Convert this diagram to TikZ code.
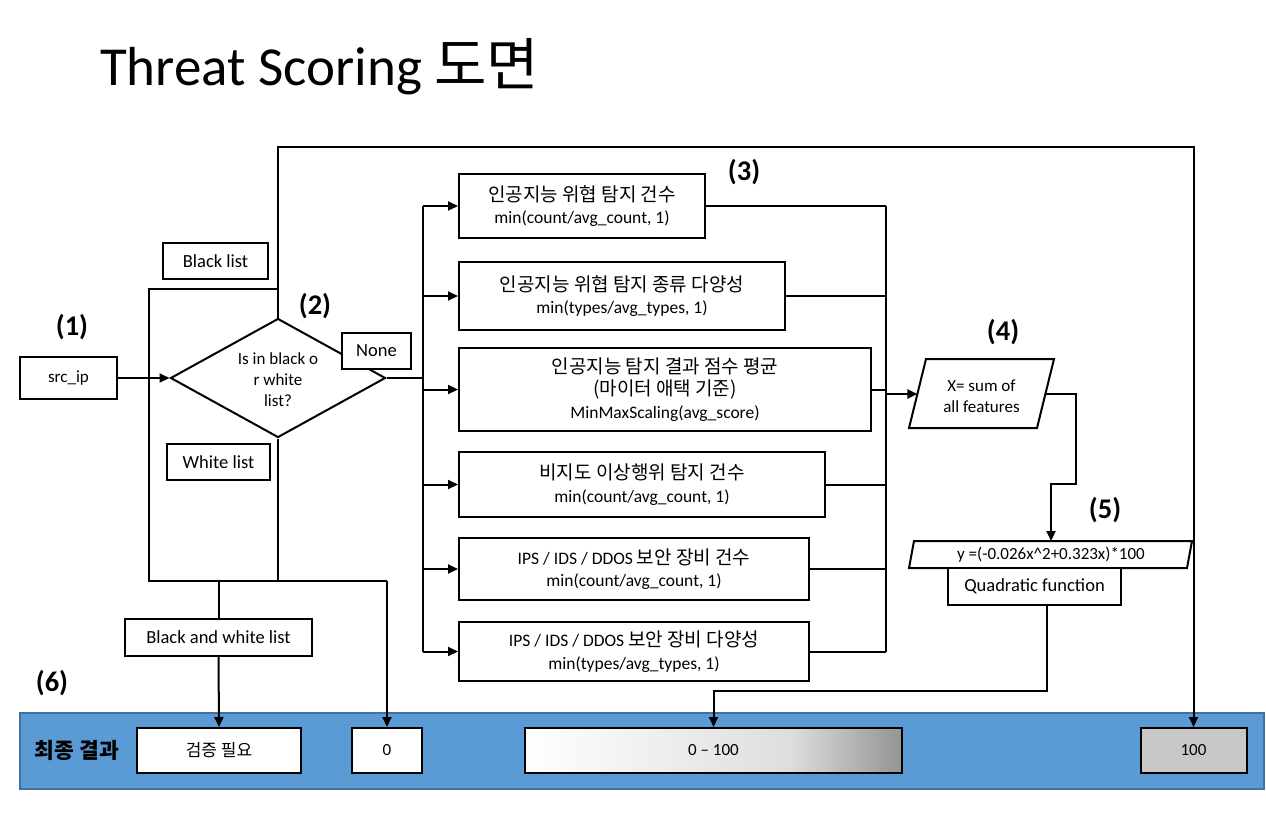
\documentclass[tikz,border=0pt]{standalone}
\usepackage{fontspec}
\setmainfont{Carlito}
\newfontfamily\kr{Noto Sans CJK KR}
\usetikzlibrary{arrows.meta,shapes.geometric}
\definecolor{bandblue}{HTML}{5B9BD5}
\definecolor{bandedge}{HTML}{41719C}
\definecolor{hundredgray}{HTML}{C8C8C8}
\pgfdeclarehorizontalshading{bargrad}{100bp}{color(0bp)=(white); color(25bp)=(white); color(60bp)=(black!13); color(75bp)=(black!42); color(100bp)=(black!42)}
\newcommand\kt[1]{{\kr\fontsize{19}{22.5}\selectfont #1}}
\begin{document}
\begin{tikzpicture}[x=1pt,y=-1pt,
  ln/.style={line width=2pt},
  arr/.style={line width=2pt,-{Triangle[length=10pt,width=9pt]}},
  box/.style={draw,line width=2pt,fill=white,inner sep=0pt,align=center,font=\fontsize{17.5}{22.5}\selectfont},
  tag/.style={draw,line width=2pt,fill=white,inner sep=0pt,align=center,font=\fontsize{18.5}{22}\selectfont},
  lbl/.style={font=\fontsize{28.5}{30}\selectfont\bfseries,inner sep=0pt},
  rbox/.style={draw,line width=2pt,fill=white,inner sep=0pt,minimum height=45pt,font=\fontsize{17}{20}\selectfont}]
\useasboundingbox (0,0) rectangle (1266,822);

% title
\node[anchor=base west,inner sep=0pt,font=\fontsize{55}{60}\selectfont] (title) at (100,85) {Threat Scoring {\kr\fontsize{57}{60}\selectfont 도면}};

% step labels
\node[lbl] (L1) at (72,327) {(1)};
\node[lbl] (L2) at (315,306) {(2)};
\node[lbl] (L3) at (744,172) {(3)};
\node[lbl] (L4) at (1003,332) {(4)};
\node[lbl] (L5) at (1105,510) {(5)};
\node[lbl] (L6) at (52,683) {(6)};

% bottom band
\node[draw=bandedge,fill=bandblue,line width=2pt,minimum width=1244pt,minimum height=76pt,inner sep=0pt] (band) at (642,751) {};
\node[font=\kr\bfseries\fontsize{21.5}{22}\selectfont,inner sep=0pt] (res) at (77,750) {최종 결과};
\node[rbox,minimum width=164pt] (verify) at (219,750.5) {\kr 검증 필요};
\node[rbox,minimum width=70pt] (zero) at (387,750.5) {0};
\node[rbox,minimum width=377pt,shading=bargrad] (grad) at (713.5,750.5) {0 – 100};
\node[rbox,minimum width=106pt,fill=hundredgray] (hundred) at (1193.5,750.5) {100};

% coordinates of the loop lines
\coordinate (tl) at (149,289);
\coordinate (bl) at (149,581);
\coordinate (br) at (387,581);
\coordinate (lt) at (278,147);
\coordinate (rt) at (1193.5,147);
\coordinate (busT) at (423,206);
\coordinate (busB) at (423,651.5);
\coordinate (rbT) at (886,206);
\coordinate (rbB) at (886,651.5);
\coordinate (rbM) at (886,394);

% left part
\node[tag,minimum width=97pt,minimum height=42pt,font=\fontsize{17}{20}\selectfont] (src) at (68.5,378) {src\_ip};
\node[tag,minimum width=105pt,minimum height=36pt] (blk) at (215.5,261) {Black list};
\node[tag,minimum width=103pt,minimum height=36pt] (wht) at (218.5,462) {White list};
\node[tag,minimum width=187pt,minimum height=37pt] (bw) at (218.5,637.5) {Black and white list};

\node[draw,diamond,line width=2pt,fill=white,minimum width=215pt,minimum height=119pt,inner sep=0pt] (dia) at (278,378) {};
\node[align=center,inner sep=0pt,font=\fontsize{17}{21}\selectfont] (diatxt) at (278,380) {Is in black o\\r white\\list?};
\node[tag,minimum width=69pt,minimum height=36pt] (none) at (376.5,351) {None};

\draw[arr] (src.east) -- (dia.west);
\draw[ln] (dia.north |- tl) -- (tl) -- (bl) -- (br);
\draw[arr] (br) -- (zero.north);
\draw[ln] (dia.south) -- (dia.south |- bl);
\draw[ln] (bw.north |- bl) -- (bw.north);
\draw[arr] (bw.south) -- (verify.north);
\draw[arr] (dia.north) -- (lt) -- (rt) -- (hundred.north);

% feature boxes
\node[box,minimum width=246pt,minimum height=64pt] (b1) at (582,206) {\kt{인공지능 위협 탐지 건수}\\min(count/avg\_count, 1)};
\node[box,minimum width=326pt,minimum height=68pt] (b2) at (622,296) {\kt{인공지능 위협 탐지 종류 다양성}\\min(types/avg\_types, 1)};
\node[box,minimum width=412pt,minimum height=83pt] (b3) at (665,389.5) {\kt{인공지능 탐지 결과 점수 평균}\\\kt{(마이터 애택 기준)}\\MinMaxScaling(avg\_score)};
\node[box,minimum width=366pt,minimum height=65pt] (b4) at (642,484.5) {\kt{비지도 이상행위 탐지 건수}\\min(count/avg\_count, 1)};
\node[box,minimum width=350pt,minimum height=62pt] (b5) at (634,569) {IPS / IDS / DDOS \kt{보안 장비 건수}\\min(count/avg\_count, 1)};
\node[box,minimum width=350pt,minimum height=59pt] (b6) at (634,651.5) {IPS / IDS / DDOS \kt{보안 장비 다양성}\\min(types/avg\_types, 1)};

\draw[ln] (dia.east) -- (dia.east -| busT);
\draw[ln] (busT) -- (busB);
\draw[ln] (rbT) -- (rbB);
\foreach \b in {b1,b2,b3,b4,b5,b6}{
  \draw[arr] (\b.west -| busT) -- (\b.west);
  \draw[ln] (\b.east) -- (\b.east -| rbT);
}

% (4) parallelogram
\coordinate (p4a) at (926,359);
\coordinate (p4b) at (1054,359);
\coordinate (p4c) at (1037,428);
\coordinate (p4d) at (909,428);
\coordinate (p4w) at (917.4,394);
\coordinate (p4e) at (1045.4,394);
\draw[ln,fill=white] (p4a) -- (p4b) -- (p4c) -- (p4d) -- cycle;
\node[align=center,inner sep=0pt,font=\fontsize{17}{21}\selectfont] (p4t) at (981.5,396) {X= sum of\\all features};
\draw[arr] (rbM) -- (p4w);

% (5) parallelogram
\coordinate (p5a) at (914,541);
\coordinate (p5b) at (1192,541);
\coordinate (p5c) at (1187,568);
\coordinate (p5d) at (909,568);
\coordinate (p5n) at (1051,541);
\draw[ln,fill=white] (p5a) -- (p5b) -- (p5c) -- (p5d) -- cycle;
\node[inner sep=0pt,font=\fontsize{17}{20}\selectfont] (p5t) at (1051,555) {y =(-0.026x\textasciicircum 2+0.323x)*100};
\coordinate (k1) at (1076,394);
\coordinate (k2) at (1076,484);
\coordinate (k3) at (1051,484);
\draw[arr] (p4e) -- (k1) -- (k2) -- (k3) -- (p5n);

\node[tag,minimum width=173pt,minimum height=37pt] (quad) at (1034.5,586.5) {Quadratic function};
\draw[arr] ([xshift=12.5pt]quad.south) -- ++(0,85) -| (grad.north);
\end{tikzpicture}
\end{document}
